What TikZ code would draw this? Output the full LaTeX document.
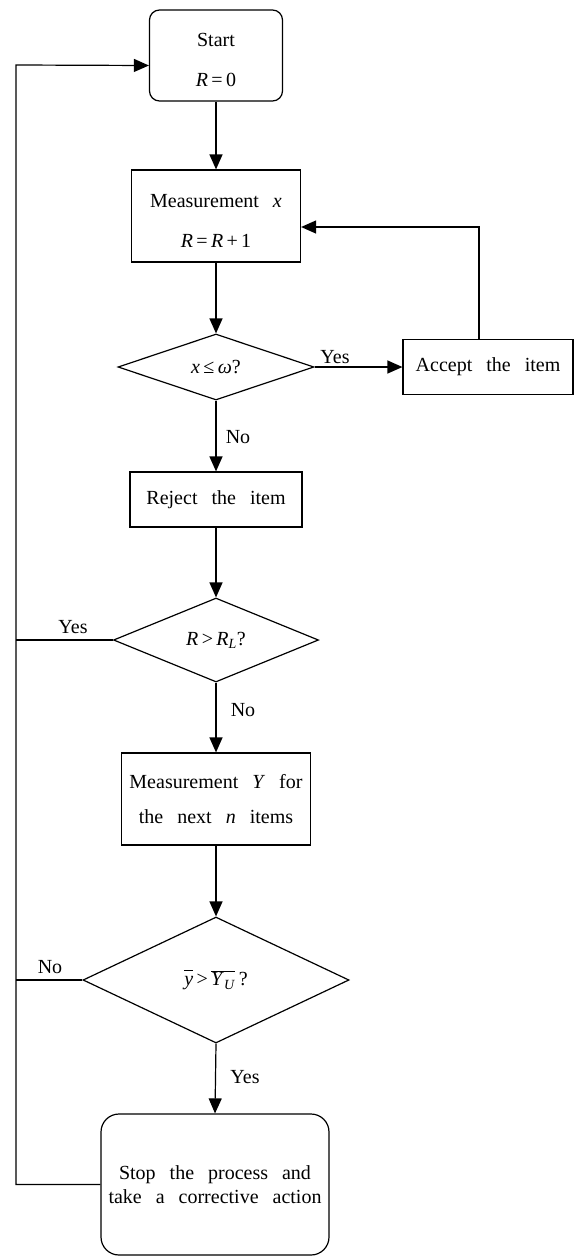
\documentclass[tikz,border=0pt]{standalone}
\usepackage{fontspec}
\setmainfont{Liberation Serif}[WordSpace=2.8]
\usetikzlibrary{shapes.geometric,arrows.meta}
\newcommand\lowr[2]{\raisebox{-#1}[\height][\depth]{#2}}
\begin{document}
\begin{tikzpicture}[x=1pt,y=-1pt]
\tikzset{
  txt/.style={font=\fontsize{20}{24}\selectfont},
  base/.style={txt, draw, line width=1.2pt, align=center, inner sep=0pt},
  rbox/.style={base, rectangle},
  rrbox/.style={base, rectangle, rounded corners=10pt},
  dec/.style={base, diamond},
  lbl/.style={txt, inner sep=0pt},
  arr/.style={line width=1.2pt, -{Triangle[length=15pt,width=13pt]}},
  ln/.style={line width=1.2pt},
}
\useasboundingbox (0,0) rectangle (579,1258);

\node[rrbox, minimum width=133pt, minimum height=91pt] (start) at (216,55.5)
  {\lowr{4pt}{Start}\\[16pt]\lowr{4pt}{\textit{R}\,=\,0}};
\node[rbox, minimum width=169pt, minimum height=92pt] (meas) at (216,216)
  {\lowr{5pt}{Measurement \textit{x}}\\[16pt]\lowr{5pt}{\textit{R}\,=\,\textit{R}\,+\,1}};
\node[dec, minimum width=196pt, minimum height=66pt, shape aspect=2.97] (d1) at (216,367)
  {\textit{x}\,≤\,\textit{ω}?};
\node[rbox, minimum width=170pt, minimum height=55pt] (accept) at (488,367)
  {Accept the item};
\node[rbox, minimum width=172pt, minimum height=55pt] (reject) at (216,499.5)
  {Reject the item};
\node[dec, minimum width=205pt, minimum height=84pt, shape aspect=2.44] (d2) at (216,640)
  {\textit{R}\,>\,\textit{R}\textsubscript{\textit{L}}?};
\node[rbox, minimum width=189pt, minimum height=92pt] (measY) at (216,799)
  {Measurement \textit{Y} for\\[11pt]the next \textit{n} items};
\node[dec, minimum width=266pt, minimum height=126pt, shape aspect=2.11] (d3) at (216,980)
  {$\overline{\vphantom{Y}\mbox{\textit{y}}}$\,>\,$\overline{\mbox{\textit{Y}\textsubscript{\textit{U}}}}$\,?};
\node[base, rectangle, rounded corners=18pt, minimum width=228pt, minimum height=141pt] (stop) at (215,1184.5)
  {Stop the process and\\take a corrective action};

\node[lbl] (y1) at (335,357) {Yes};
\node[lbl] (n1) at (238,437) {No};
\node[lbl] (y2) at (73,627) {Yes};
\node[lbl] (n2) at (243,710) {No};
\node[lbl] (n3) at (50,967) {No};
\node[lbl] (y3) at (245,1077) {Yes};

\coordinate (lt) at (16,65);

\draw[arr] (start.south) -- (meas.north);
\draw[arr] (meas.south) -- (d1.north);
\draw[arr] (d1.east) -- (accept.west);
\draw[arr] ([xshift=-9pt]accept.north) |- ([yshift=-11pt]meas.east);
\draw[arr] (d1.south) -- (reject.north);
\draw[arr] (reject.south) -- (d2.north);
\draw[arr] (d2.south) -- (measY.north);
\draw[arr] (measY.south) -- (d3.north);
\draw[arr] (d3.south) -- (stop.north);
\draw[ln] (d2.west) -- (d2.west -| lt);
\draw[ln] (d3.west) -- (d3.west -| lt);
\draw[arr] (stop.west) -- (stop.west -| lt) -- (lt) -- ([yshift=-10pt]start.west);
\end{tikzpicture}
\end{document}
